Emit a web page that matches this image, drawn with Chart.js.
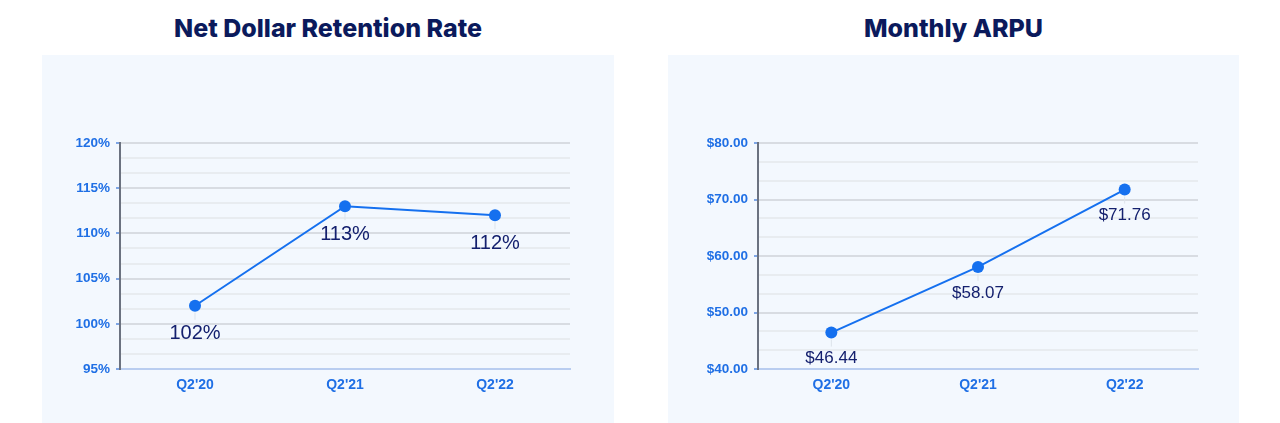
<!DOCTYPE html>
<html>
<head>
<meta charset="utf-8">
<script src="https://cdn.jsdelivr.net/npm/chart.js@4"></script>
<style>
  body { margin: 0; background: #fff; width: 1280px; height: 423px; position: relative; overflow: hidden; font-family: "Liberation Sans", Arial, sans-serif; }
  .title { position: absolute; top: 13px; font-family: Inter, "DejaVu Sans", sans-serif; font-weight: 800; font-size: 25px; color: #0b1a5c; text-align: center; }
  .panel { position: absolute; top: 55px; height: 368px; background: #f3f8fe; }
  .panel canvas { display: block; }
</style>
</head>
<body>
<div class="title" style="left:42px;width:572px;">Net Dollar Retention Rate</div>
<div class="title" style="left:668px;width:571px;">Monthly ARPU</div>
<div class="panel" style="left:42px;width:572px;"><canvas class="js-ndr" width="572" height="368"></canvas></div>
<div class="panel" style="left:668px;width:571px;"><canvas class="js-arpu" width="571" height="368"></canvas></div>
<script>
const quarters = ["Q2'20", "Q2'21", "Q2'22"];
const ndrValues = [102, 113, 112];
const ndrLabels = ["102%", "113%", "112%"];
const arpuValues = [46.44, 58.07, 71.76];
const arpuLabels = ["$46.44", "$58.07", "$71.76"];

// major tick values, each step split in 3 by lighter lines
const ndrTicks = [95, 100, 105, 110, 115, 120];
const arpuTicks = [40, 50, 60, 70, 80];

const LINE_BLUE = "#1570ef";
const TICK_BLUE = "#1f6fe5";
const NAVY = "#14206e";

Chart.defaults.animation = false;
Chart.defaults.responsive = false;

function withMinor(majors) {
  const out = [];
  for (let i = 0; i < majors.length; i++) {
    out.push({ value: majors[i], major: true });
    if (i < majors.length - 1) {
      const step = (majors[i + 1] - majors[i]) / 3;
      out.push({ value: majors[i] + step, major: false });
      out.push({ value: majors[i] + 2 * step, major: false });
    }
  }
  return out;
}

// labels under each point, with a faint leader line
const pointLabels = {
  id: "pointLabels",
  afterDatasetsDraw(chart, args, opts) {
    const { ctx } = chart;
    const meta = chart.getDatasetMeta(0);
    ctx.save();
    meta.data.forEach((pt, i) => {
      ctx.strokeStyle = "#dde3ea";
      ctx.lineWidth = 1;
      ctx.beginPath();
      ctx.moveTo(pt.x, pt.y + 7);
      ctx.lineTo(pt.x, pt.y + 14);
      ctx.stroke();
      ctx.fillStyle = NAVY;
      ctx.font = opts.font;
      ctx.textAlign = "center";
      ctx.textBaseline = "middle";
      ctx.fillText(opts.labels[i], pt.x, pt.y + opts.offset);
    });
    ctx.restore();
  },
};

function drawChart(el, values, labels, majors, fmt, yWidth, rightPad, labelFont, labelOffset) {
  new Chart(document.querySelector(el).getContext("2d"), {
    type: "line",
    data: {
      labels: quarters,
      datasets: [
        {
          data: values,
          borderColor: LINE_BLUE,
          backgroundColor: LINE_BLUE,
          borderWidth: 2,
          pointRadius: 6,
          pointHoverRadius: 6,
          pointBorderWidth: 0,
          tension: 0,
        },
      ],
    },
    options: {
      layout: { padding: { top: 88, right: rightPad, bottom: 0, left: 0 } },
      plugins: {
        legend: { display: false },
        tooltip: { enabled: false },
        pointLabels: { labels: labels, font: labelFont, offset: labelOffset },
      },
      scales: {
        x: {
          offset: true,
          grid: { display: false, drawTicks: false },
          border: { color: "#b9cdf0", width: 2 },
          ticks: { color: TICK_BLUE, font: { family: "Liberation Sans", weight: "bold", size: 14 }, padding: 8 },
          afterFit(scale) { scale.height = 54; },
        },
        y: {
          min: majors[0],
          max: majors[majors.length - 1],
          afterBuildTicks(scale) { scale.ticks = withMinor(majors); },
          grid: {
            color: (c) => (c.tick && c.tick.major ? "#d8dce2" : "#e8ecf0"),
            lineWidth: 2,
            tickLength: 4,
            tickColor: (c) => (c.tick && c.tick.major ? "#7ea6e6" : "rgba(0,0,0,0)"),
          },
          border: { color: "#6b7280", width: 2 },
          ticks: {
            autoSkip: false,
            color: TICK_BLUE,
            font: { family: "Liberation Sans", weight: "bold", size: 13.5 },
            padding: 6,
            callback(value, index, ticks) {
              return ticks[index].major ? fmt(value) : "";
            },
          },
          afterFit(scale) { scale.width = yWidth; },
        },
      },
    },
    plugins: [pointLabels],
  });
}

drawChart(".js-ndr", ndrValues, ndrLabels, ndrTicks, (v) => v + "%", 78, 44, "20px 'Liberation Sans'", 28);
drawChart(".js-arpu", arpuValues, arpuLabels, arpuTicks, (v) => "$" + v.toFixed(2), 90, 41, "17px 'Liberation Sans'", 26);
</script>
</body>
</html>
